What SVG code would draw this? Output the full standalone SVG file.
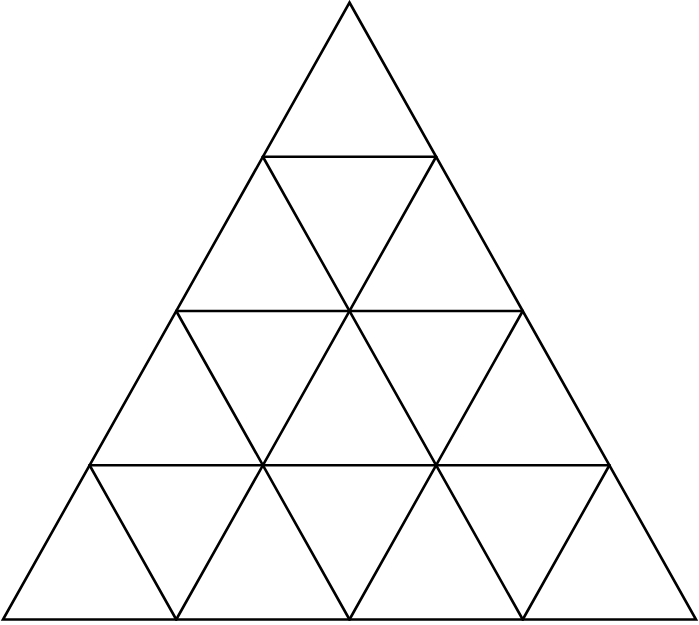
<svg xmlns="http://www.w3.org/2000/svg" width="699" height="625" viewBox="0 0 699 625">
<style>
line, polygon { stroke: #000; stroke-width: 2.6; fill: none; stroke-linecap: round; stroke-linejoin: miter; }
</style>
<rect width="699" height="625" fill="#fff"/>
<g id="outline">
<polygon points="349.5,2.5 696,619.5 3,619.5"/>
</g>
<g id="connectors">
<line x1="262.9" y1="156.75" x2="436.1" y2="156.75"/>
<line x1="176.25" y1="311" x2="522.75" y2="311"/>
<line x1="89.6" y1="465.25" x2="609.4" y2="465.25"/>
<line x1="176.25" y1="619.5" x2="436.1" y2="156.75"/>
<line x1="349.5" y1="619.5" x2="522.75" y2="311"/>
<line x1="522.75" y1="619.5" x2="609.4" y2="465.25"/>
<line x1="522.75" y1="619.5" x2="262.9" y2="156.75"/>
<line x1="349.5" y1="619.5" x2="176.25" y2="311"/>
<line x1="176.25" y1="619.5" x2="89.6" y2="465.25"/>
</g>
</svg>
